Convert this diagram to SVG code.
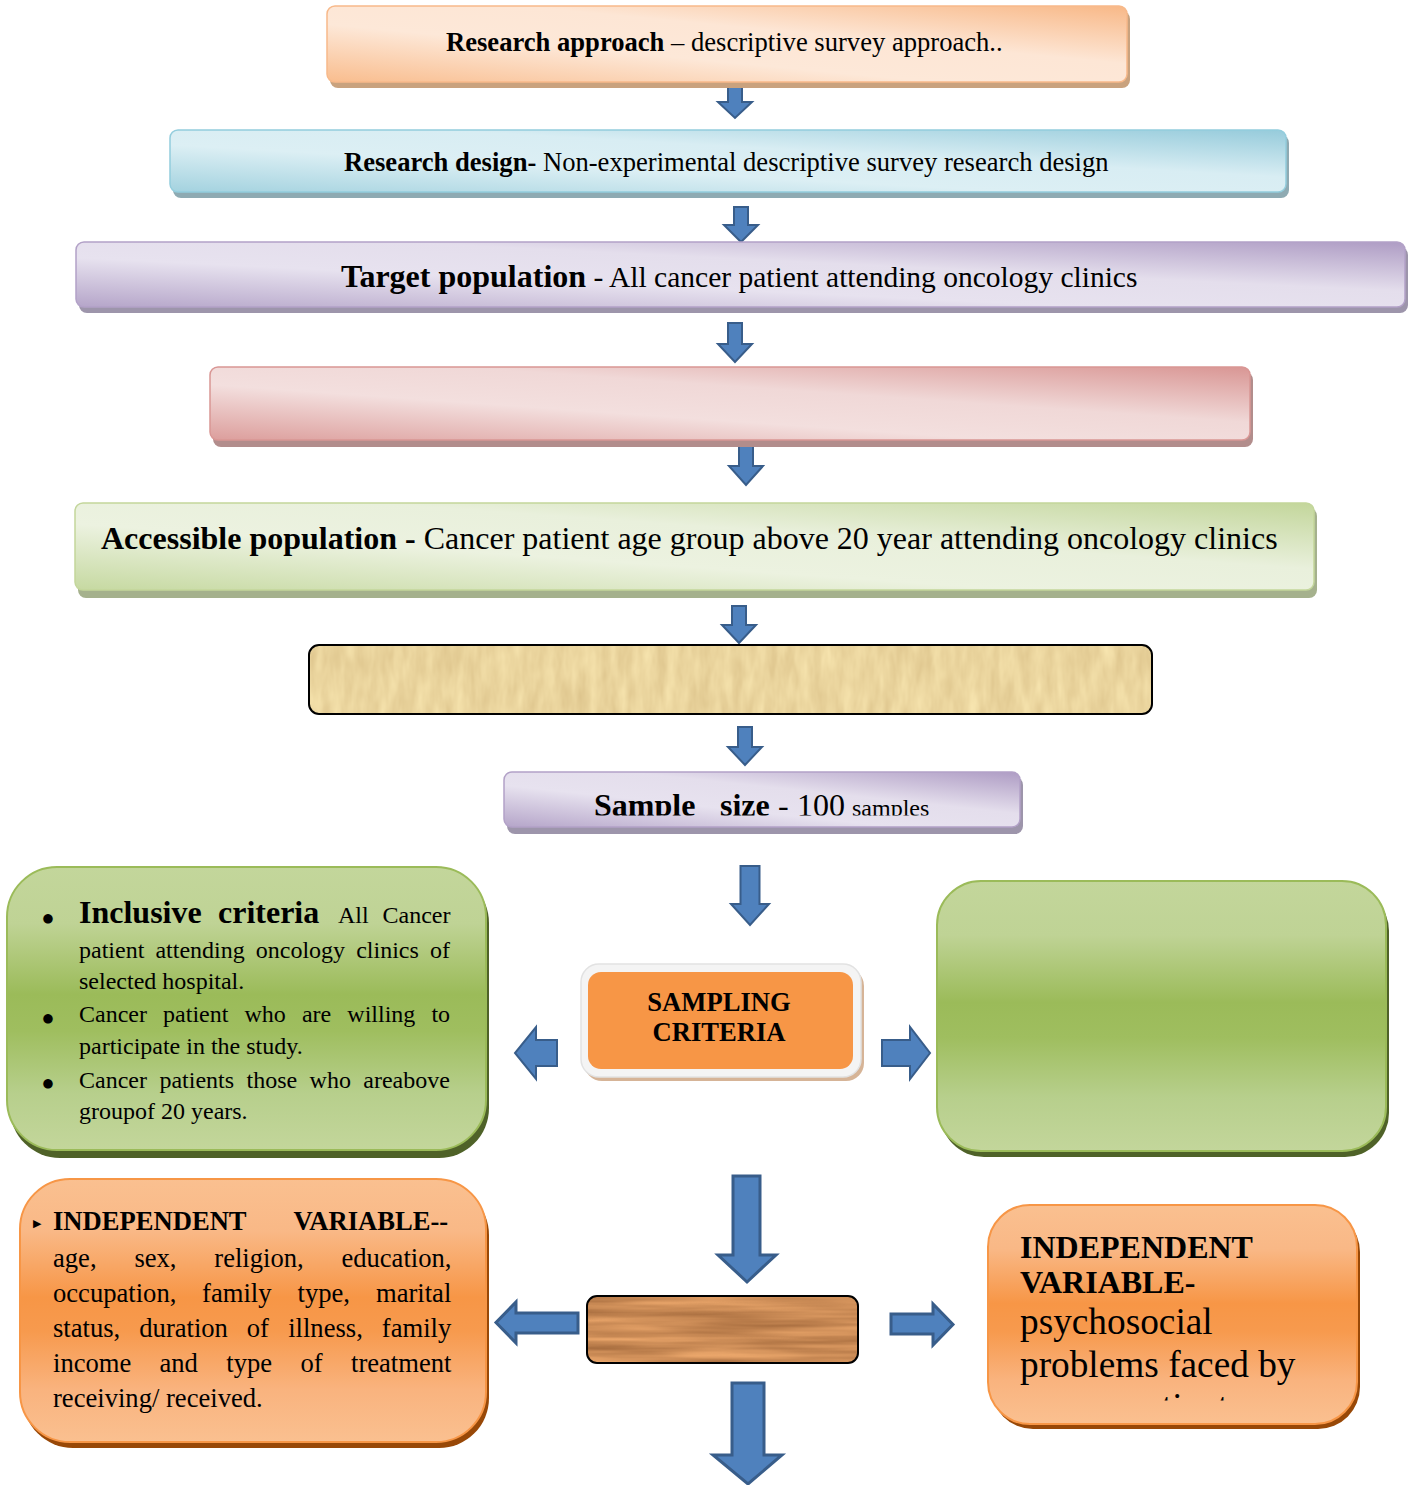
<svg xmlns="http://www.w3.org/2000/svg" width="1411" height="1485" viewBox="0 0 1411 1485">
<defs>
<style>
.t{font-family:"Liberation Serif","Times New Roman",serif;fill:#000}
.b{font-weight:bold}
.dot{font-family:"DejaVu Sans",sans-serif;font-size:12.5px;fill:#000}
.arrow{fill:#4f81bd;stroke:#385d8a;stroke-width:2;stroke-linejoin:miter}
.big{stroke-width:3}
</style>
<linearGradient id="gOr" x1="0" y1="1" x2="1" y2="0"><stop offset="0" stop-color="#f9bd8e"/><stop offset="0.38" stop-color="#fde8d8"/><stop offset="0.62" stop-color="#fde6d5"/><stop offset="1" stop-color="#f8b887"/></linearGradient>
<linearGradient id="gBl" x1="0" y1="1" x2="1" y2="0"><stop offset="0" stop-color="#a3d2df"/><stop offset="0.38" stop-color="#dceff4"/><stop offset="0.62" stop-color="#d8edf3"/><stop offset="1" stop-color="#96cbdb"/></linearGradient>
<linearGradient id="gPu" x1="0" y1="1" x2="1" y2="0"><stop offset="0" stop-color="#b5a5c9"/><stop offset="0.38" stop-color="#e7e2ef"/><stop offset="0.62" stop-color="#e4deec"/><stop offset="1" stop-color="#ae9cc4"/></linearGradient>
<linearGradient id="gRd" x1="0" y1="1" x2="1" y2="0"><stop offset="0" stop-color="#dc9e9c"/><stop offset="0.38" stop-color="#f3dfde"/><stop offset="0.62" stop-color="#f0d8d7"/><stop offset="1" stop-color="#d99694"/></linearGradient>
<linearGradient id="gGl" x1="0" y1="1" x2="1" y2="0"><stop offset="0" stop-color="#c6d9a1"/><stop offset="0.38" stop-color="#ecf2e0"/><stop offset="0.62" stop-color="#e9f0dc"/><stop offset="1" stop-color="#c3d69b"/></linearGradient>
<linearGradient id="gGreen" x1="0" y1="0" x2="0" y2="1"><stop offset="0" stop-color="#c3d69b"/><stop offset="0.2" stop-color="#bfd395"/><stop offset="0.45" stop-color="#9bbb59"/><stop offset="0.58" stop-color="#9fbe5f"/><stop offset="0.8" stop-color="#b7cf8c"/><stop offset="1" stop-color="#c3d69b"/></linearGradient>
<linearGradient id="gOrange" x1="0" y1="0" x2="0" y2="1"><stop offset="0" stop-color="#fac090"/><stop offset="0.2" stop-color="#f9b886"/><stop offset="0.45" stop-color="#f79646"/><stop offset="0.58" stop-color="#f79a4e"/><stop offset="0.8" stop-color="#f9b37e"/><stop offset="1" stop-color="#fac090"/></linearGradient>
<filter id="fWoodLight" x="0" y="0" width="100%" height="100%" color-interpolation-filters="sRGB">
<feTurbulence type="fractalNoise" baseFrequency="0.09 0.025" numOctaves="3" seed="4" result="n"/>
<feColorMatrix in="n" type="matrix" values="0.12 0 0 0 0.86  0.15 0 0 0 0.76  0.16 0 0 0 0.54  0 0 0 0 1" result="c"/>
<feComposite in="c" in2="SourceGraphic" operator="in"/>
</filter>
<filter id="fWoodDark" x="0" y="0" width="100%" height="100%" color-interpolation-filters="sRGB">
<feTurbulence type="fractalNoise" baseFrequency="0.006 0.11" numOctaves="3" seed="7" result="n"/>
<feColorMatrix in="n" type="matrix" values="0.4 0 0 0 0.6  0.34 0 0 0 0.38  0.26 0 0 0 0.21  0 0 0 0 1" result="c"/>
<feComposite in="c" in2="SourceGraphic" operator="in"/>
</filter>
<clipPath id="clipSample"><rect x="504" y="772" width="516" height="43.5"/></clipPath>
<clipPath id="clipRight"><rect x="988" y="1205" width="369" height="195.5"/></clipPath>
</defs>
<rect width="1411" height="1485" fill="#ffffff"/>

<g id="connectors">
<polygon class="arrow" points="728,86 742,86 742,102 752,102 735,118 718,102 728,102"/>
<polygon class="arrow" points="734,207 748,207 748,225 758,225 741,242 724,225 734,225"/>
<polygon class="arrow" points="728,323 742,323 742,344 752,344 735,362 718,344 728,344"/>
<polygon class="arrow" points="739,446 753,446 753,466 763,466 746,485 729,466 739,466"/>
<polygon class="arrow" points="732,606 746,606 746,625 756,625 739,643 722,625 732,625"/>
<polygon class="arrow" points="738,727 752,727 752,747 762,747 745,765 728,747 738,747"/>
<polygon class="arrow" points="740.5,866 759.5,866 759.5,904 769,904 750,925 731,904 740.5,904"/>
<polygon class="arrow" points="557,1040 536,1040 536,1027 515,1053 536,1079 536,1066 557,1066"/>
<polygon class="arrow" points="882,1040 910,1040 910,1027 930,1053 910,1079 910,1066 882,1066"/>
<polygon class="arrow big" points="733,1176 760,1176 760,1255 776,1255 747,1282 718,1255 733,1255"/>
<polygon class="arrow big" points="578,1313 516,1313 516,1302 496,1322.5 516,1343 516,1333 578,1333"/>
<polygon class="arrow big" points="891,1314 933,1314 933,1304 953,1324.5 933,1345 933,1334 891,1334"/>
<polygon class="arrow big" points="732,1383 764,1383 764,1455 782,1455 748,1484 713,1455 732,1455"/>
</g>

<g id="node-approach">
<rect x="330" y="11" width="800" height="77" rx="8" fill="#c9a27e"/>
<rect x="327" y="6" width="800" height="76" rx="8" fill="url(#gOr)" stroke="#f7b98a" stroke-width="1.5"/>
<text class="t" x="446" y="51" font-size="26.6"><tspan class="b">Research approach</tspan> – descriptive survey approach..</text>
</g>

<g id="node-design">
<rect x="173" y="135" width="1116" height="63" rx="8" fill="#8eaab2"/>
<rect x="170" y="130" width="1116" height="62" rx="8" fill="url(#gBl)" stroke="#93cddd" stroke-width="1.5"/>
<text class="t" x="344" y="171" font-size="26.6"><tspan class="b">Research design-</tspan> Non-experimental descriptive survey research design</text>
</g>

<g id="node-target">
<rect x="79" y="247" width="1329" height="66" rx="8" fill="#9d95ab"/>
<rect x="76" y="242" width="1329" height="65" rx="8" fill="url(#gPu)" stroke="#b2a1c7" stroke-width="1.5"/>
<text class="t" x="341" y="287"><tspan class="b" font-size="32">Target population</tspan><tspan font-size="29.5"> - All cancer patient attending oncology clinics</tspan></text>
</g>

<g id="node-blank-red">
<rect x="213" y="372" width="1040" height="75" rx="8" fill="#b28d8c"/>
<rect x="210" y="367" width="1040" height="73" rx="8" fill="url(#gRd)" stroke="#d99694" stroke-width="1.5"/>
</g>

<g id="node-accessible">
<rect x="78" y="508" width="1239" height="90" rx="8" fill="#a5b18d"/>
<rect x="75" y="503" width="1239" height="87" rx="8" fill="url(#gGl)" stroke="#c3d69b" stroke-width="1.5"/>
<text class="t" x="101" y="549" font-size="32"><tspan class="b">Accessible population -</tspan> Cancer patient age group above 20 year attending oncology clinics</text>
</g>

<g id="node-blank-wood">
<rect x="309" y="645" width="843" height="69" rx="10" fill="#e6cf94" filter="url(#fWoodLight)"/>
<rect x="309" y="645" width="843" height="69" rx="10" fill="none" stroke="#000" stroke-width="2"/>
</g>

<g id="node-sample">
<rect x="507" y="777" width="516" height="57" rx="8" fill="#9d95ab"/>
<rect x="504" y="772" width="516" height="55" rx="8" fill="url(#gPu)" stroke="#b2a1c7" stroke-width="1.5"/>
<g clip-path="url(#clipSample)">
<text class="t" y="816" font-size="32"><tspan class="b" x="594">Sample</tspan><tspan class="b" x="720">size</tspan><tspan x="778">-</tspan><tspan x="797">100</tspan><tspan x="852" font-size="24">samples</tspan></text>
</g>
</g>

<g id="node-inclusive">
<rect x="10" y="873" width="479" height="285" rx="50" fill="#4f6228"/>
<rect x="7" y="867" width="479" height="283" rx="50" fill="url(#gGreen)" stroke="#9bbb59" stroke-width="2"/>
<text class="dot" x="42.5" y="921.5">●</text>
<text class="dot" x="42.5" y="1021.5">●</text>
<text class="dot" x="42.5" y="1086.5">●</text>
<g class="t" font-size="24">
<text y="923"><tspan class="b" font-size="32" x="79">Inclusive</tspan><tspan class="b" font-size="32" x="218">criteria</tspan><tspan x="338">All</tspan><tspan x="382.5">Cancer</tspan></text>
<text y="958"><tspan x="79">patient</tspan><tspan x="155.4">attending</tspan><tspan x="255.8">oncology</tspan><tspan x="356.2">clinics</tspan><tspan x="430">of</tspan></text>
<text x="79" y="989">selected hospital.</text>
<text y="1022"><tspan x="79">Cancer</tspan><tspan x="163.1">patient</tspan><tspan x="244.5">who</tspan><tspan x="301.9">are</tspan><tspan x="347.3">willing</tspan><tspan x="431.4">to</tspan></text>
<text x="79" y="1054">participate in the study.</text>
<text y="1088"><tspan x="79">Cancer</tspan><tspan x="159.4">patients</tspan><tspan x="246.5">those</tspan><tspan x="309.6">who</tspan><tspan x="363.3">areabove</tspan></text>
<text x="79" y="1119">groupof 20 years.</text>
</g>
</g>

<g id="node-sampling-criteria">
<rect x="584" y="968" width="280" height="113" rx="18" fill="#d6b497"/>
<rect x="581" y="964" width="280" height="113" rx="18" fill="#f4f4f4" stroke="#e2e2e2" stroke-width="1.5"/>
<rect x="588" y="972" width="265" height="97" rx="13" fill="#f79646"/>
<text class="t b" x="719" y="1011" font-size="26.6" text-anchor="middle">SAMPLING</text>
<text class="t b" x="719" y="1041" font-size="26.6" text-anchor="middle">CRITERIA</text>
</g>

<g id="node-blank-green">
<rect x="940" y="887" width="449" height="270" rx="44" fill="#4f6228"/>
<rect x="937" y="881" width="449" height="270" rx="44" fill="url(#gGreen)" stroke="#9bbb59" stroke-width="2"/>
</g>

<g id="node-independent-left">
<rect x="23" y="1185" width="466" height="263" rx="50" fill="#984807"/>
<rect x="20" y="1179" width="466" height="263" rx="50" fill="url(#gOrange)" stroke="#f79646" stroke-width="2"/>
<text x="33" y="1227" font-family="DejaVu Sans, sans-serif" font-size="11">▶</text>
<g class="t" font-size="26.6">
<text y="1230"><tspan class="b" x="53">INDEPENDENT</tspan><tspan class="b" x="293.5">VARIABLE--</tspan></text>
<text y="1266.5"><tspan x="53">age,</tspan><tspan x="134.4">sex,</tspan><tspan x="214.3">religion,</tspan><tspan x="341.4">education,</tspan></text>
<text y="1301.5"><tspan x="53">occupation,</tspan><tspan x="202.1">family</tspan><tspan x="297.5">type,</tspan><tspan x="376">marital</tspan></text>
<text y="1336.5"><tspan x="53">status,</tspan><tspan x="139.3">duration</tspan><tspan x="246.8">of</tspan><tspan x="288.2">illness,</tspan><tspan x="381.8">family</tspan></text>
<text y="1371.5"><tspan x="53">income</tspan><tspan x="159.5">and</tspan><tspan x="226.3">type</tspan><tspan x="300.4">of</tspan><tspan x="351">treatment</tspan></text>
<text x="53" y="1406.5">receiving/ received.</text>
</g>
</g>

<g id="node-blank-wood-dark">
<rect x="587" y="1296" width="271" height="67" rx="10" fill="#c98d58" filter="url(#fWoodDark)"/>
<rect x="587" y="1296" width="271" height="67" rx="10" fill="none" stroke="#000" stroke-width="2"/>
</g>

<g id="node-independent-right">
<rect x="991" y="1210" width="369" height="219" rx="42" fill="#984807"/>
<rect x="988" y="1205" width="369" height="219" rx="42" fill="url(#gOrange)" stroke="#f79646" stroke-width="2"/>
<g clip-path="url(#clipRight)">
<text class="t b" x="1020" y="1257.5" font-size="32">INDEPENDENT</text>
<text class="t b" x="1020" y="1293" font-size="32">VARIABLE-</text>
<text class="t" x="1020" y="1334" font-size="37.3">psychosocial</text>
<text class="t" x="1020" y="1376.7" font-size="37.3">problems faced by</text>
<text class="t" x="1020" y="1419.4" font-size="37.3">cancer patients</text>
</g>
</g>
</svg>
